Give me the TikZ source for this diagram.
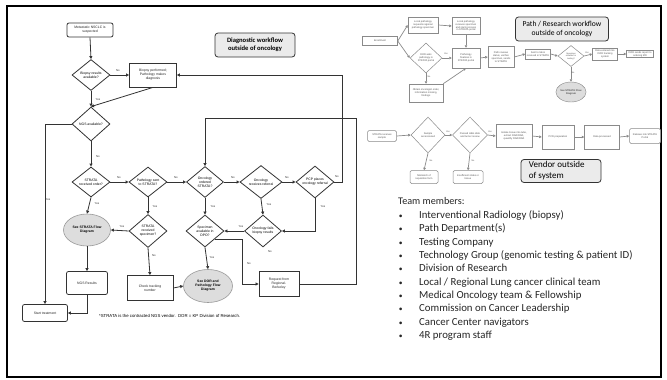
\documentclass[tikz,border=0pt]{standalone}
\usepackage{fontspec}
\setmainfont{Liberation Sans}
\newfontfamily\calfont{Carlito}
\usetikzlibrary{shapes.geometric,arrows.meta}
\definecolor{lc}{HTML}{333333}
\definecolor{gl}{HTML}{8A8A8A}
\definecolor{gt}{HTML}{555555}
\definecolor{ellf}{HTML}{DDDDDD}
\definecolor{tagf}{HTML}{EBEBEB}
\newcommand\ltf{\fontsize{3.4}{3.9}\selectfont}
\newcommand\gtf{\fontsize{2.5}{2.9}\selectfont}
\begin{document}
\begin{tikzpicture}[x=1pt,y=-1pt,
  sz/.style 2 args={minimum width=#1pt,minimum height=#2pt},
  box/.style={rectangle,draw=lc,line width=0.8pt,fill=white,inner sep=0pt,align=center,font=\ltf,text=black!85},
  rbox/.style={box,rounded corners=2pt},
  dia/.style={diamond,draw=lc,line width=0.8pt,fill=white,inner sep=0pt,aspect=1.3,align=center,font=\ltf},
  ell/.style={ellipse,draw=gray!80,fill=ellf,line width=0.6pt,inner sep=0pt,align=center,font=\ltf\bfseries},
  yn/.style={font=\fontsize{2.8}{3}\selectfont,inner sep=0pt,text=black!80},
  ln/.style={draw=lc,line width=0.8pt},
  ao/.style={ln,-{Triangle[open,length=3pt,width=3pt]}},
  af/.style={ln,-{Triangle[length=3pt,width=3pt]}},
  gbox/.style={rectangle,draw=gl,line width=0.5pt,fill=white,inner sep=0pt,align=center,font=\gtf,text=gt},
  grbox/.style={gbox,rounded corners=1.5pt},
  gdia/.style={diamond,draw=gl,line width=0.5pt,fill=white,inner sep=0pt,aspect=1.2,align=center,font=\gtf,text=gt},
  gell/.style={ellipse,draw=gl,fill=ellf,line width=0.4pt,inner sep=0pt,align=center,font=\gtf\bfseries,text=gt},
  gyn/.style={font=\fontsize{2.2}{2.4}\selectfont,inner sep=0pt,text=gt},
  ga/.style={draw=gl,line width=0.7pt,-{Triangle[length=2.5pt,width=2.5pt]}},
  tag/.style={draw=lc,line width=0.8pt,fill=tagf,rounded corners=3pt,inner sep=0pt,align=center},
  tmtext/.style={anchor=base west,inner sep=0pt,text=black!85,font=\calfont\fontsize{10.8}{12}\selectfont},
]
\useasboundingbox (0,0) rectangle (667,380);
\fill[white] (0,0) rectangle (667,380);
\draw[line width=2pt] (7,6) rectangle (661,377);

% ---------------- Left diagnostic flowchart ----------------
\node[rbox,sz={46}{14}] (meta) at (90,30) {Metastatic NSCLC is\\suspected};
\node[dia,sz={38}{31}] (d1) at (91,75) {Biopsy results\\available?};
\node[box,sz={47}{24}] (bx) at (153,75) {Biopsy performed;\\Pathology makes\\diagnosis};
\node[dia,sz={38}{34}] (d2) at (91,124) {NGS available?};
\node[dia,sz={38}{30}] (d3) at (91,182) {STRATA\\received order?};
\node[dia,sz={38}{30}] (d4) at (148,182) {Pathology sent\\to STRATA?};
\node[dia,sz={37}{31}] (d5) at (205,182) {Oncology\\ordered\\STRATA?};
\node[dia,sz={42}{33}] (d6) at (261,182) {Oncology\\receives referral};
\node[dia,sz={38}{32}] (d7) at (315,182) {PCP places\\oncology referral};
\node[ell,sz={47}{32}] (e1) at (87,230) {See STRATA Flow\\Diagram};
\node[dia,sz={38}{33}] (d8) at (148,231) {STRATA\\received\\specimen?};
\node[dia,sz={38}{32}] (d9) at (205,231) {Specimen\\available in\\DPO?};
\node[dia,sz={37}{32}] (d10) at (263,231) {Oncology fails\\biopsy results};
\node[rbox,sz={41}{23}] (ngs) at (87,283) {NGS Results};
\node[box,sz={46}{25}] (chk) at (150,288) {Check tracking\\number};
\node[ell,sz={49}{33}] (e2) at (208,286) {See DOR and\\Pathology Flow\\Diagram};
\node[box,sz={40}{25}] (req) at (279,284) {Request from\\Regional-\\Berkeley};
\node[rbox,sz={45}{17}] (st) at (45,313) {Start treatment};
\node[tag,sz={80}{24},font=\calfont\bfseries\fontsize{6.6}{8}\selectfont] (tagd) at (255,45) {Diagnostic workflow\\outside of oncology};
\node[anchor=west,inner sep=0pt,font=\fontsize{4.3}{5}\selectfont] (fn) at (99,316) {*STRATA is the contracted NGS vendor.\ \ DOR = KP Division of Research.};

\draw[ao] (meta.south) -- (d1.north);
\draw[ao] (d1.east) -- (bx.west);
\draw[ao] (d1.south) -- (d2.north);
\draw[af] (bx.south) -- (d2.north);
\draw[ao] (d2.west) -| (st.north);
\draw[ao] (d2.south) -- (d3.north);
\draw[ao] (d3.east) -- (d4.west);
\draw[ao] (d4.east) -- (d5.west);
\draw[ao] (d5.east) -- (d6.west);
\draw[ao] (d6.east) -- (d7.west);
\draw[af] (d7.east) -- ++(8,0) |- (bx.east);
\draw[af] (d3.south) -- (e1.north);
\draw[af] (d4.south) -- (d8.north);
\draw[af] (d8.west) -- (e1.east);
\draw[af] (d8.south) -- (chk.north);
\draw[af] (chk.east) -- (e2.west);
\draw[af] (e1.south) -- (ngs.north);
\draw[af] (ngs.south) |- (st.east);
\draw[af] (d5.south) -- (d9.north);
\draw[af] (d6.south) -- (d10.north);
\draw[af] (d10.west) -- (d9.east);
\draw[af] (d7.south) |- (d10.east);
\draw[ao] (d9.south) -- (e2.north);
\coordinate (k3) at (242,239);
\draw[af] (d9.south east) -- (d9.south east -| k3) |- (req.west);
\coordinate (k2) at (356,118);
\draw[af] (req.east) -| (k2) -| (d5.north);

\node[yn] (y1) at (118,71) {No};
\node[yn] (y2) at (98,100) {Yes};
\node[yn] (y3) at (98,157) {No};
\node[yn] (y4) at (48,200) {Yes};
\node[yn] (y5) at (119,178) {No};
\node[yn] (y6) at (176,178) {No};
\node[yn] (y7) at (233,178) {No};
\node[yn] (y8) at (287,178) {No};
\node[yn] (y9) at (337,177) {No};
\node[yn] (y10) at (97,204) {Yes};
\node[yn] (y11) at (155,207) {Yes};
\node[yn] (y12) at (213,207) {Yes};
\node[yn] (y13) at (269,205) {Yes};
\node[yn] (y14) at (323,207) {Yes};
\node[yn] (y15) at (122,227) {Yes};
\node[yn] (y16) at (241,227) {Yes};
\node[yn] (y17) at (154,256) {No};
\node[yn] (y18) at (212,258) {Yes};
\node[yn] (y19) at (249,264) {No};
\node[yn] (y20) at (270,252) {No};

% ---------------- Path / Research workflow ----------------
\node[gbox,sz={35}{9}] (p0) at (380,41) {Enrollment};
\node[gbox,sz={30}{16}] (p1) at (423,25) {Local pathology\\requests regional\\pathology specimen};
\node[gbox,sz={28}{17}] (p2) at (466,26) {Local pathology\\receives specimen\\and starts process\\in STRATA portal};
\node[gdia,sz={32}{30}] (pd) at (426,58) {DOR asks\\pathology in\\STRATA portal};
\node[gbox,sz={28}{20}] (p3) at (466,58) {Pathology\\finalizes in\\STRATA portal};
\node[gbox,sz={26}{21}] (p4) at (501,57) {Path reviews\\status, verifies\\specimen, sends\\to STRATA};
\node[gbox,sz={34}{18}] (p5) at (426,93) {Obtain oncologist order,\\information missing,\\findings};
\node[gbox,sz={25}{10}] (p6) at (538,54) {Sent to lab \&\\received in STRATA};
\node[gdia,sz={26}{21},font=\fontsize{2.1}{2.5}\selectfont] (pd2) at (571,56) {Specimen\\suitable for\\testing?};
\node[gbox,sz={25}{12}] (p7) at (605,54) {Data entered into\\DOR tracking\\system};
\node[gbox,sz={27}{7}] (p8) at (640,54) {DOR sends report to\\ordering MD};
\node[gell,sz={26}{20}] (pe) at (571,92) {See STRATA Flow\\Diagram};
\node[tag,sz={93}{24},font=\calfont\fontsize{7.6}{9.5}\selectfont] (tagp) at (562,29) {Path / Research workflow\\outside of oncology};

\draw[ga] (p0.east) -- (p1.west);
\draw[ga] (p0.east) -- (pd.west);
\draw[ga] (p1.east) -- (p2.west);
\draw[ga] (p2.south) -- (p3.north);
\draw[ga] (pd.east) -- (p3.west);
\draw[ga] (pd.south) -- (p5.north);
\draw[ga] (p5.north east) -- (p3.south);
\draw[ga] (p3.east) -- (p4.west);
\draw[ga] (p4.east) -- (p6.west);
\draw[ga] (p6.east) -- (pd2.west);
\draw[ga] (pd2.east) -- (p7.west);
\draw[ga] (p7.east) -- (p8.west);
\draw[ga] (pd2.south) -- (pe.north);
\node[gyn] (q1) at (446,54) {Yes};
\node[gyn] (q2) at (429,77) {No};
\node[gyn] (q3) at (587,53) {Yes};
\node[gyn] (q4) at (573,73) {No};

% ---------------- Vendor workflow ----------------
\node[grbox,sz={29}{11}] (v0) at (382,136) {STRATA receives\\sample};
\node[gdia,sz={34}{36}] (vd1) at (428,135) {Sample\\accessioned};
\node[gdia,sz={35}{36}] (vd2) at (470,135) {Passed H\&E slide\\and tumor review};
\node[gbox,sz={36}{23}] (v1) at (514,136) {Isolate tissue into tube,\\extract DNA/RNA,\\quantify DNA/RNA};
\node[gbox,sz={32}{24}] (v2) at (558,137) {PCR preparation};
\node[gbox,sz={35}{24}] (v3) at (602,137) {Data processed};
\node[grbox,sz={31}{15}] (v4) at (645,136) {Release into STRATA\\Portal};
\node[grbox,sz={28}{13}] (v5) at (424,177) {Mismatch of\\requisition form};
\node[grbox,sz={30}{13}] (v6) at (468,177) {Insufficient slides or\\tissue};
\node[tag,sz={80}{23},font=\calfont\fontsize{9}{11}\selectfont,align=left] (tagv) at (561,171) {Vendor outside\\of system\hphantom{ outside}};

\draw[ga] (v0.east) -- (vd1.west);
\draw[ga] (vd1.east) -- (vd2.west);
\draw[ga] (vd2.east) -- (v1.west);
\draw[ga] (v1.east) -- (v2.west);
\draw[ga] (v2.east) -- (v3.west);
\draw[ga] (v3.east) -- (v4.west);
\draw[ga] (vd1.south) -- (v5.north);
\draw[ga] (vd2.south) -- (v6.north);
\node[gyn] (r1) at (448,132) {Yes};
\node[gyn] (r2) at (490,132) {Yes};
\node[gyn] (r3) at (431,161) {No};
\node[gyn] (r4) at (473,161) {No};

% ---------------- Team members ----------------
\node[tmtext,font=\calfont\fontsize{10.2}{12}\selectfont] (tm0) at (398,204) {Team members:};
\foreach \t [count=\i] in {Interventional Radiology (biopsy), Path Department(s), Testing Company, Technology Group (genomic testing \& patient ID), Division of Research, Local / Regional Lung cancer clinical team, Medical Oncology team \& Fellowship, Commission on Cancer Leadership, Cancer Center navigators, 4R program staff}
  \node[tmtext] (tm\i) at (398,{218.5+13.33*(\i-1)}) {\makebox[21pt][l]{\hspace{0.6pt}\scalebox{0.7}{\textbullet}}\t};
\end{tikzpicture}
\end{document}
